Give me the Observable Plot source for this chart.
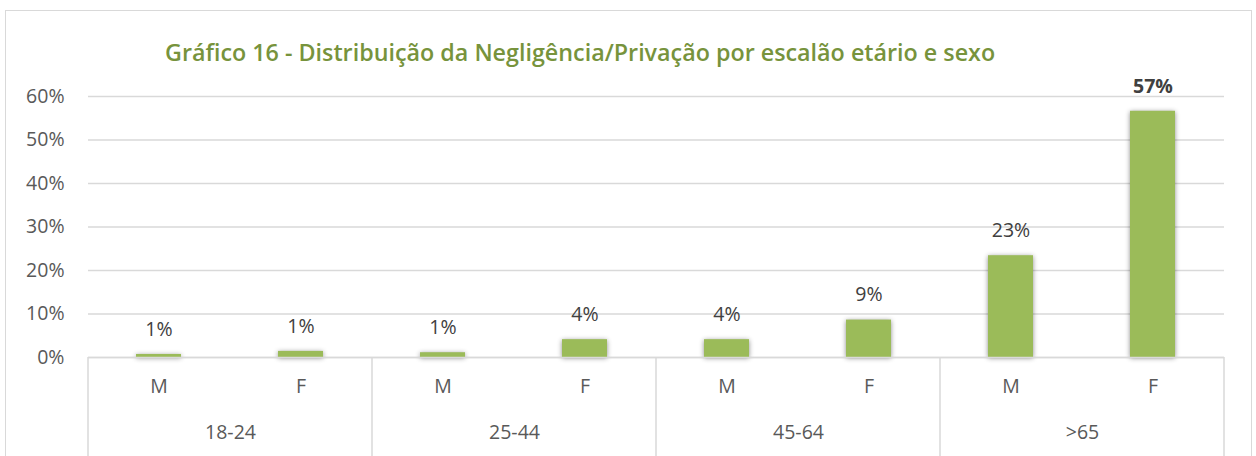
<!DOCTYPE html>
<html><head><meta charset="utf-8">
<script src="https://cdn.jsdelivr.net/npm/d3@7"></script>
<script src="https://cdn.jsdelivr.net/npm/@observablehq/plot@0.6"></script>
<style>
body{margin:0;background:#fff;font-family:"Open Sans",sans-serif;}
#wrap{position:relative;width:1256px;height:456px;overflow:hidden;background:#fff;}
#border{position:absolute;left:5px;top:10px;width:1247px;height:470px;border:1.5px solid #d9d9d9;box-sizing:border-box;}
#chart{position:absolute;left:0;top:0;}
#title{position:absolute;left:165px;top:36px;font-size:23.3px;font-weight:600;color:#77933C;white-space:nowrap;font-family:"Open Sans",sans-serif;}
#chart g.bar rect{filter:drop-shadow(0px 1px 2.5px rgba(0,0,0,0.45));}
</style></head><body>
<div id="wrap"><div id="border"></div><div id="chart"></div><div id="title"></div></div>
<script>
const title = "Gráfico 16 - Distribuição da Negligência/Privação por escalão etário e sexo";
const ageGroups = ["18-24", "25-44", "45-64", ">65"];
const sexes = ["M", "F"];
const valuesM = [0.007, 0.011, 0.041, 0.234];
const valuesF = [0.014, 0.041, 0.086, 0.566];
const yTicks = [0, 0.1, 0.2, 0.3, 0.4, 0.5, 0.6];

document.getElementById("title").textContent = title;
const fmt = d3.format(".0%");
const data = ageGroups.flatMap((g, i) => [
  {group: g, sex: "M", value: valuesM[i]},
  {group: g, sex: "F", value: valuesF[i]}
]);
const maxV = d3.max(data, d => d.value);

const plot = Plot.plot({
  width: 1256, height: 456,
  marginLeft: 87, marginRight: 32, marginTop: 96, marginBottom: 99,
  style: {fontFamily: "Open Sans", fontSize: "19.5px", color: "#595959", background: "transparent", overflow: "visible"},
  fx: {domain: ageGroups, padding: 0, label: null},
  x: {domain: sexes, paddingInner: 0.68, paddingOuter: 0.34, label: null},
  y: {domain: [0, 0.6], label: null},
  marks: [
    Plot.gridY(yTicks, {stroke: "#d9d9d9", strokeOpacity: 1, strokeWidth: 1.5}),
    Plot.axisY(yTicks, {tickSize: 0, tickPadding: 24, tickFormat: fmt, color: "#595959", fontSize: 19.5, label: null}),
    Plot.barY(data, {fx: "group", x: "sex", y: "value", fill: "#9BBB59", className: "bar"}),
    Plot.ruleY([0], {stroke: "#d9d9d9", strokeWidth: 1.5}),
    Plot.text(data.filter(d => d.value < maxV), {fx: "group", x: "sex", y: "value", text: d => fmt(d.value), dy: -25, fill: "#404040", fontSize: 19.5}),
    Plot.text(data.filter(d => d.value === maxV), {fx: "group", x: "sex", y: "value", text: d => fmt(d.value), dy: -25, fill: "#404040", fontSize: 19.5, fontWeight: "bold"}),
    Plot.axisX({tickSize: 0, tickPadding: 22, color: "#595959", fontSize: 19.5, label: null}),
    Plot.axisFx({anchor: "bottom", tickSize: 0, tickPadding: 68, color: "#595959", fontSize: 19.5, label: null})
  ]
});
document.getElementById("chart").appendChild(plot);

// category separators derived from the facet scale
const fxs = plot.scale("fx");
const ys = plot.scale("y");
const edges = ageGroups.map(g => fxs.apply(g));
edges.push(fxs.apply(ageGroups[ageGroups.length - 1]) + fxs.bandwidth);
d3.select(plot).append("g")
  .selectAll("line").data(edges).join("line")
  .attr("x1", d => d).attr("x2", d => d)
  .attr("y1", ys.apply(0)).attr("y2", 456)
  .attr("stroke", "#d9d9d9").attr("stroke-width", 1.5);
</script>
</body></html>
